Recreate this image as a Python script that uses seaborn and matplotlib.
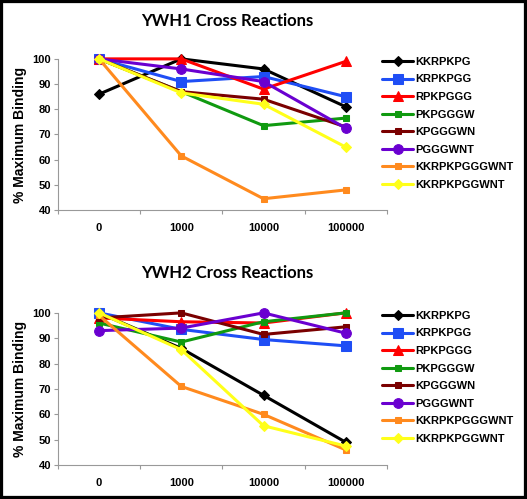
import numpy as np
import pandas as pd
import seaborn as sns
import matplotlib.pyplot as plt
from matplotlib.patches import Rectangle

# concentrations (categorical x)
conc = ['0', '1000', '10000', '100000']
peptides = ['KKRPKPG', 'KRPKPGG', 'RPKPGGG', 'PKPGGGW',
            'KPGGGWN', 'PGGGWNT', 'KKRPKPGGGWNT', 'KKRPKPGGWNT']

# YWH1 cross reactions (% maximum binding)
ywh1_kkrpkpg = [86, 100, 96, 81]
ywh1_krpkpgg = [100, 91, 93, 85]
ywh1_rpkpggg = [100, 100, 88, 99]
ywh1_pkpgggw = [100, 87, 73.5, 76.5]
ywh1_kpgggwn = [100, 87, 84, 73]
ywh1_pgggwnt = [100, 96, 91, 72.5]
ywh1_kkrpkpgggwnt = [100, 61.5, 44.5, 48]
ywh1_kkrpkpggwnt = [100, 86.5, 82, 65]

# YWH2 cross reactions
ywh2_kkrpkpg = [100, 86, 67.5, 49]
ywh2_krpkpgg = [100, 93.5, 89.5, 87]
ywh2_rpkpggg = [98, 96.5, 96, 100]
ywh2_pkpgggw = [96, 88.5, 96.5, 100]
ywh2_kpgggwn = [98, 100, 91.5, 94.5]
ywh2_pgggwnt = [93, 94, 100, 92]
ywh2_kkrpkpgggwnt = [99, 71, 60, 46]
ywh2_kkrpkpggwnt = [100, 85.5, 55.5, 47.5]

ywh1 = [ywh1_kkrpkpg, ywh1_krpkpgg, ywh1_rpkpggg, ywh1_pkpgggw,
        ywh1_kpgggwn, ywh1_pgggwnt, ywh1_kkrpkpgggwnt, ywh1_kkrpkpggwnt]
ywh2 = [ywh2_kkrpkpg, ywh2_krpkpgg, ywh2_rpkpggg, ywh2_pkpgggw,
        ywh2_kpgggwn, ywh2_pgggwnt, ywh2_kkrpkpgggwnt, ywh2_kkrpkpggwnt]

colors = ['#000000', '#1f4ef5', '#ff0000', '#109a10',
          '#7a0000', '#6a00d0', '#ff8a1e', '#ffff1a']
markers = ['D', 's', '^', 's', 's', 'o', 's', 'D']
msizes = [5, 6.5, 6.5, 4, 4, 7, 4, 5]

sns.set_theme(style='white')
plt.rcParams['font.family'] = ['Liberation Sans', 'DejaVu Sans']
plt.rcParams['text.color'] = 'black'
plt.rcParams['xtick.labelcolor'] = 'black'
plt.rcParams['ytick.labelcolor'] = 'black'
plt.rcParams['axes.labelcolor'] = 'black'

fig = plt.figure(figsize=(5.27, 4.99), dpi=100)
ax1 = fig.add_axes([0.110, 0.579, 0.624, 0.303])
ax2 = fig.add_axes([0.110, 0.068, 0.624, 0.305])


def draw(ax, series, title, title_y, leg_top):
    rows = []
    for name, vals in zip(peptides, series):
        for i, v in enumerate(vals):
            rows.append({'peptide': name, 'pos': i, 'value': v})
    df = pd.DataFrame(rows)
    for name, c, m, ms in zip(peptides, colors, markers, msizes):
        sub = df[df['peptide'] == name]
        sns.lineplot(data=sub, x='pos', y='value', ax=ax, color=c,
                     marker=m, markersize=ms, markeredgecolor=c,
                     linewidth=2.2, label=name)
    ax.set_xlim(-0.5, 3.5)
    ax.set_ylim(40, 100)
    ax.set_yticks(np.arange(40, 101, 10))
    ax.set_xticks(range(4))
    ax.set_xticklabels(conc)
    ax.set_xticks(np.arange(-0.5, 3.6, 1), minor=True)
    ax.tick_params(axis='x', which='major', length=0, pad=9, labelsize=8)
    ax.tick_params(axis='x', which='minor', length=3, width=0.8,
                   color='#999999', direction='out', bottom=True)
    ax.tick_params(axis='y', length=3, width=0.8, color='#999999',
                   direction='out', left=True, labelsize=8, pad=2)
    for lab in ax.get_xticklabels() + ax.get_yticklabels():
        lab.set_fontweight('bold')
    ax.set_xlabel('')
    ax.set_ylabel('% Maximum Binding', fontsize=10, fontweight='bold',
                  labelpad=4)
    for s in ['top', 'right']:
        ax.spines[s].set_visible(False)
    for s in ['left', 'bottom']:
        ax.spines[s].set_color('#999999')
        ax.spines[s].set_linewidth(0.8)
    for ln in ax.lines:
        ln.set_clip_on(False)
    fig.text(0.431, title_y, title, ha='center', va='center', fontsize=12,
             family='Lato', fontweight='bold')
    leg = ax.legend(loc='upper left', bbox_to_anchor=(0.725, leg_top),
                    bbox_transform=fig.transFigure, frameon=False,
                    fontsize=8, handlelength=2.8, handletextpad=0.15,
                    labelspacing=0.68, borderaxespad=0, borderpad=0)
    for t in leg.get_texts():
        t.set_fontweight('bold')


draw(ax1, ywh1, 'YWH1 Cross Reactions', 0.958, 0.886)
draw(ax2, ywh2, 'YWH2 Cross Reactions', 0.452, 0.377)

fig.patches.append(Rectangle((0, 0), 1, 1, transform=fig.transFigure,
                             fill=False, edgecolor='black', linewidth=4.5))

fig.savefig('out.png', dpi=100)
